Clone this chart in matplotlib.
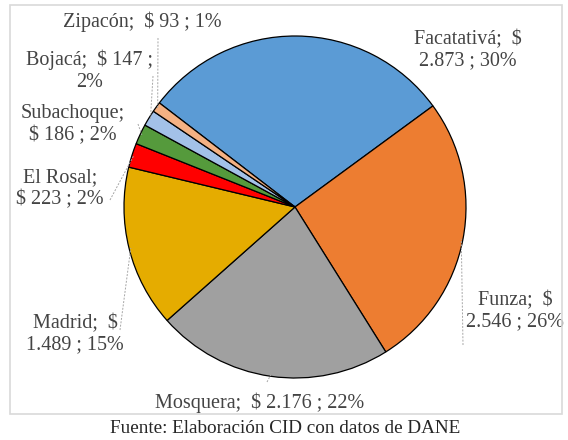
import numpy as np
import matplotlib.pyplot as plt
from matplotlib.patches import Rectangle

plt.rcParams['font.family'] = ['Liberation Serif', 'DejaVu Serif']

# Data
municipios = ['Facatativá', 'Funza', 'Mosquera', 'Madrid', 'El Rosal',
              'Subachoque', 'Bojacá', 'Zipacón']
valores = [2873, 2546, 2176, 1489, 223, 186, 147, 93]
valores_txt = ['2.873', '2.546', '2.176', '1.489', '223', '186', '147', '93']
porcentajes = ['30%', '26%', '22%', '15%', '2%', '2%', '2%', '1%']
colores = ['#5B9BD5', '#ED7D31', '#A0A0A0', '#E5AC00', '#FF0000',
           '#559A3C', '#A3C1E8', '#F4B183']

# label text, split as in the original
etiquetas = [
    'Facatativá;  $\n2.873 ; 30%',
    'Funza;  $\n2.546 ; 26%',
    'Mosquera;  $ 2.176 ; 22%',
    'Madrid;  $\n1.489 ; 15%',
    'El Rosal;\n$ 223 ; 2%',
    'Subachoque;\n$ 186 ; 2%',
    'Bojacá;  $ 147 ;\n2%',
    'Zipacón;  $ 93 ; 1%',
]

W, H = 568, 440
CX, CY, R = 295, 207, 171


def px(x, y):
    # pixel position -> data coords (pie radius = 1)
    return (x - CX) / R, (CY - y) / R


fig = plt.figure(figsize=(W / 100, H / 100), dpi=100)
ax = fig.add_axes([0, 0, 1, 1])
ax.set_aspect('equal')
ax.axis('off')

# chart frame
fig.patches.append(Rectangle((10 / W, 1 - 414 / H), 552 / W, 409 / H,
                             transform=fig.transFigure, fill=False,
                             edgecolor='#D9D9D9', linewidth=1.2))

wedges, _ = ax.pie(valores, colors=colores, startangle=142.5,
                   counterclock=False, radius=1, center=(0, 0),
                   wedgeprops=dict(edgecolor='black', linewidth=0.9))
ax.set_xlim(-CX / R, (W - CX) / R)
ax.set_ylim(-(H - CY) / R, CY / R)

# label positions (pixels) and leader-line start points (pixels)
pos_etq = [(468, 50), (515, 311), (260, 403), (75, 334),
           (60, 189), (73, 125), (90, 71), (142, 22)]
lider = [None, (463, 345), (267, 382), (120, 330),
         (110, 200), (138, 124), (153, 76), (158, 38)]

for w, txt, p, l in zip(wedges, etiquetas, pos_etq, lider):
    x, y = px(*p)
    ax.text(x, y, txt, ha='center', va='center', fontsize=14.5,
            color='#444444', linespacing=1.2)
    if l is not None:
        ang = np.deg2rad((w.theta1 + w.theta2) / 2)
        ex, ey = 0.99 * np.cos(ang), 0.99 * np.sin(ang)
        lx, ly = px(*l)
        ax.plot([lx, ex], [ly, ey], color='#A6A6A6', linewidth=0.7,
                linestyle=(0, (2, 1.5)))

fig.text(285 / W, 1 - 428 / H, 'Fuente: Elaboración CID con datos de DANE',
         ha='center', va='center', fontsize=13.8, color='#262626')

fig.savefig('out.png', dpi=100)
